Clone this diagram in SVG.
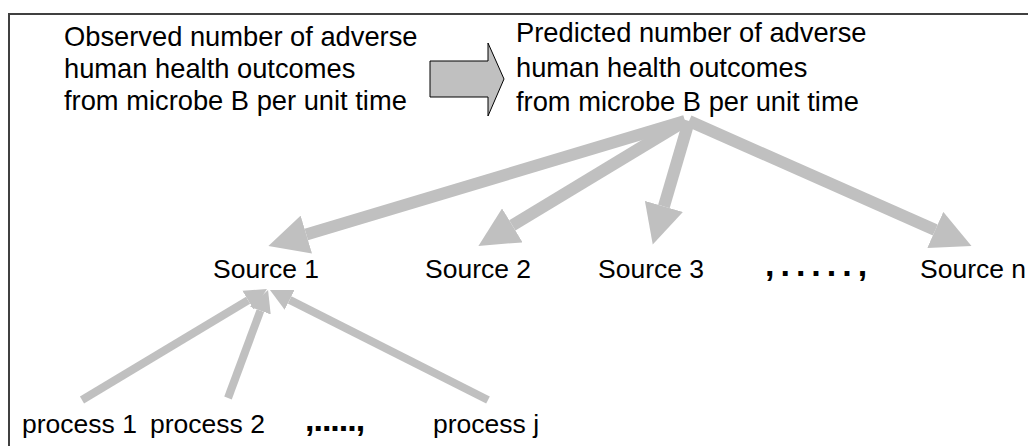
<svg xmlns="http://www.w3.org/2000/svg" width="1028" height="446" viewBox="0 0 1028 446">
  <style>
    .lbl { font-family: "Liberation Sans", Arial, sans-serif; font-size: 26.5px; fill: #000; }
    .big { font-size: 27.3px; }
    .dots { font-family: "Liberation Sans", Arial, sans-serif; font-size: 34px; font-weight: bold; fill: #000; }
    .thick { stroke: #c0c0c0; stroke-width: 12; fill: none; marker-end: url(#headL); }
    .thin { stroke: #c0c0c0; stroke-width: 8; fill: none; marker-end: url(#headS); }
  </style>
  <defs>
    <!-- heads start at the line end and point forward -->
    <marker id="headL" viewBox="0 0 10 10" refX="0" refY="5" markerUnits="strokeWidth" markerWidth="3.33" markerHeight="3.3" orient="auto">
      <path d="M0,0 L10,5 L0,10 z" fill="#c0c0c0"/>
    </marker>
    <marker id="headS" viewBox="0 0 10 10" refX="0" refY="5" markerUnits="strokeWidth" markerWidth="2.75" markerHeight="3" orient="auto">
      <path d="M0,0 L10,5 L0,10 z" fill="#c0c0c0"/>
    </marker>
  </defs>

  <rect width="1028" height="446" fill="#fff"/>
  <!-- frame, open at right and bottom -->
  <path d="M9,460 L9,14 L1040,14" fill="none" stroke="#404040" stroke-width="2"/>

  <g id="observed">
    <text class="lbl big" x="64" y="46">Observed number of adverse</text>
    <text class="lbl big" x="64" y="78">human health outcomes</text>
    <text class="lbl big" x="64" y="110">from microbe B per unit time</text>
  </g>

  <g id="block-arrow">
    <polygon points="430,61 488,61 488,43 504,79 488,116 488,97 430,97" fill="#c0c0c0" stroke="#000" stroke-width="1"/>
  </g>

  <g id="predicted">
    <text class="lbl big" x="516" y="42">Predicted number of adverse</text>
    <text class="lbl big" x="516" y="77">human health outcomes</text>
    <text class="lbl big" x="516" y="111">from microbe B per unit time</text>
  </g>

  <g id="source1"><text class="lbl" x="213" y="278">Source 1</text></g>
  <g id="source2"><text class="lbl" x="425" y="278">Source 2</text></g>
  <g id="source3"><text class="lbl" x="598" y="278">Source 3</text></g>
  <g id="source-ellipsis"><text class="dots" x="765" y="276" letter-spacing="6">,.....,</text></g>
  <g id="sourcen"><text class="lbl" x="920" y="278">Source n</text></g>

  <g id="process1"><text class="lbl" x="22" y="433">process 1</text></g>
  <g id="process2"><text class="lbl" x="150" y="433">process 2</text></g>
  <g id="process-ellipsis"><text class="dots" x="305" y="431" letter-spacing="-1">,.....,</text></g>
  <g id="processj"><text class="lbl" x="433" y="433">process j</text></g>

  <g id="connectors">
    <line class="thick" x1="685" y1="121" x2="306.3" y2="234.6"/>
    <line class="thick" x1="685" y1="121" x2="512.3" y2="225.4"/>
    <line class="thick" x1="689" y1="121" x2="663.9" y2="206.5"/>
    <line class="thick" x1="689" y1="121" x2="935.3" y2="230"/>
    <line class="thin" x1="82" y1="400" x2="248.1" y2="300.3"/>
    <line class="thin" x1="228" y1="398" x2="260.4" y2="310.6"/>
    <line class="thin" x1="488" y1="400" x2="289.6" y2="299.9"/>
  </g>
</svg>
